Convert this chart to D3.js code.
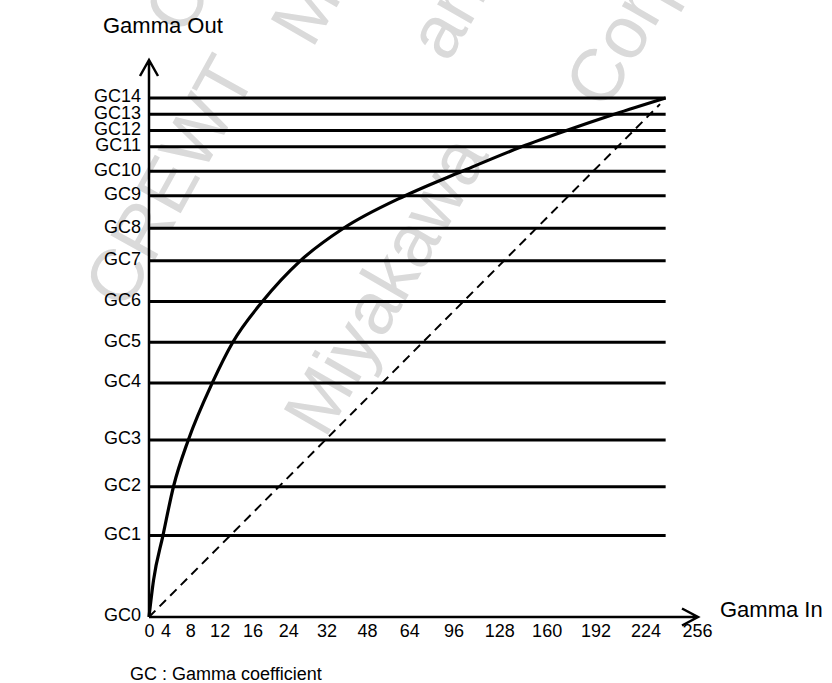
<html>
<head>
<meta charset="utf-8">
<script src="https://d3js.org/d3.v7.min.js"></script>
<style>
  body { margin: 0; background: #fff; }
  text { font-family: Arial, "Liberation Sans", sans-serif; fill: #000; }
  .wm { fill: #dadada; font-size: 74px; }
</style>
</head>
<body>
<svg width="832" height="683"></svg>
<script>
  // gamma in values written under the x axis
  var inTicks = [0, 4, 8, 12, 16, 24, 32, 48, 64, 96, 128, 160, 192, 224, 256];
  // gamma coefficient names and their output level (0-255)
  var gcNames = ["GC0","GC1","GC2","GC3","GC4","GC5","GC6","GC7","GC8","GC9","GC10","GC11","GC12","GC13","GC14"];
  var gcOut = [0, 40, 64, 87, 115, 135, 155, 175, 191, 207, 219, 231, 239, 247, 255];
  // gamma curve
  var curveIn  = [0, 1.1, 3.4, 5.3, 7.7, 11, 13.6, 18.2, 26.5, 38.7, 62.4, 102, 143, 173, 204, 236.5];
  var curveOut = [0, 18, 40, 64, 87, 115, 135, 155, 175, 191, 207, 219, 231, 239, 247, 255];
  // dashed linear reference
  var linIn  = [0, 233];
  var linOut = [0, 252];

  var svg = d3.select("svg");

  // tick slots are not evenly spaced, they widen to the right
  var slot = d3.scalePow().exponent(1.33).domain([0, inTicks.length - 1]).range([149, 697]);
  var x = d3.scaleLinear().domain(inTicks).range(inTicks.map(function(d, i){ return slot(i); }));
  var y = d3.scaleLinear().domain([0, 255]).range([617, 98]);

  // watermark
  var wm = [
    {t: "CREWT", x: 185, y: 38, r: -60},
    {t: "Miyakawa", x: 312, y: 50, r: -60},
    {t: "and", x: 448, y: 64, r: -60},
    {t: "CREWT", x: 126, y: 312, r: -61},
    {t: "Miyakawa", x: 325, y: 440, r: -60},
    {t: "Corp", x: 606, y: 112, r: -60}
  ];
  svg.append("g").selectAll("text").data(wm).enter().append("text")
    .attr("class", "wm")
    .attr("transform", function(d){ return "translate(" + d.x + "," + d.y + ") rotate(" + d.r + ")"; })
    .text(function(d){ return d.t; });

  var xEnd = x(d3.max(curveIn));

  // GC lines
  svg.append("g").selectAll("line")
    .data(gcOut.slice(1))
    .enter().append("line")
    .attr("x1", x(0)).attr("x2", xEnd)
    .attr("y1", function(d){ return y(d); })
    .attr("y2", function(d){ return y(d); })
    .attr("stroke", "#000").attr("stroke-width", 3);

  // dashed linear line
  var line = d3.line()
    .x(function(d){ return x(d[0]); })
    .y(function(d){ return y(d[1]); });
  svg.append("path")
    .attr("d", line(d3.zip(linIn, linOut)))
    .attr("fill", "none").attr("stroke", "#000")
    .attr("stroke-width", 2).attr("stroke-dasharray", "9,6");

  // gamma curve
  svg.append("path")
    .attr("d", line.curve(d3.curveMonotoneX)(d3.zip(curveIn, curveOut)))
    .attr("fill", "none").attr("stroke", "#000").attr("stroke-width", 3.2);

  // axes
  var x0 = x(0), y0 = y(0);
  var yTop = y(255) - 38, xRight = x(256) + 1;
  svg.append("path")
    .attr("d", "M" + x0 + "," + y0 + "V" + yTop + "M" + (x0 - 9) + "," + (yTop + 16) + "L" + x0 + "," + yTop + "L" + (x0 + 9) + "," + (yTop + 16))
    .attr("fill", "none").attr("stroke", "#000").attr("stroke-width", 2.5);
  svg.append("path")
    .attr("d", "M" + x0 + "," + y0 + "H" + xRight + "M" + (xRight - 16) + "," + (y0 - 8.5) + "L" + xRight + "," + y0 + "L" + (xRight - 16) + "," + (y0 + 8.5))
    .attr("fill", "none").attr("stroke", "#000").attr("stroke-width", 2.5);

  svg.append("g")
    .attr("transform", "translate(0," + y0 + ")")
    .call(d3.axisBottom(x).tickValues(inTicks).tickFormat(d3.format("d")).tickSize(0).tickPadding(7))
    .call(function(g){ g.select(".domain").remove(); })
    .attr("font-size", 18).attr("font-family", null);

  svg.append("g")
    .attr("transform", "translate(" + x0 + ",0)")
    .call(d3.axisLeft(y).tickValues(gcOut).tickFormat(function(d, i){ return gcNames[i]; }).tickSize(0).tickPadding(8))
    .call(function(g){ g.select(".domain").remove(); g.selectAll("text").attr("dy", "0.22em"); })
    .attr("font-size", 18).attr("font-family", null);

  // titles
  svg.append("text").attr("x", 103).attr("y", 33).attr("font-size", 22).text("Gamma Out");
  svg.append("text").attr("x", 720).attr("y", 617).attr("font-size", 22).text("Gamma In");
  svg.append("text").attr("x", 130).attr("y", 680).attr("font-size", 18).text("GC : Gamma coefficient");
</script>
</body>
</html>
